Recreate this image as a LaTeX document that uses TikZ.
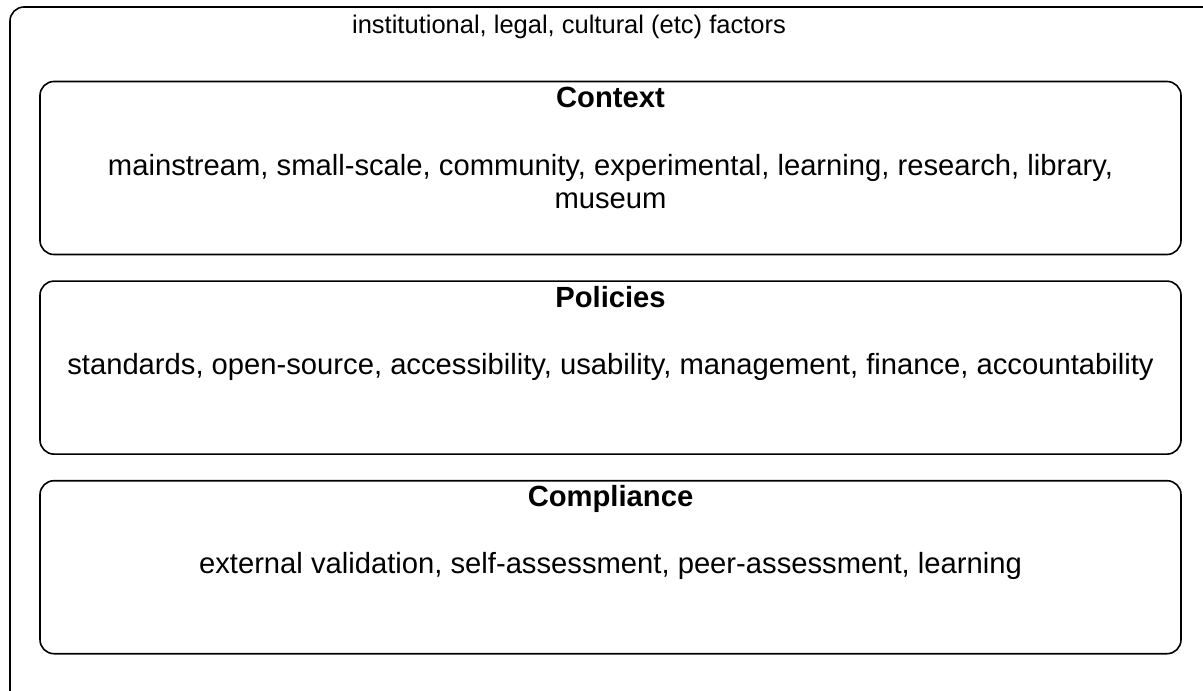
\documentclass[tikz,border=0pt]{standalone}
\usepackage{fontspec}
\setmainfont{Liberation Sans}
\usetikzlibrary{positioning}
\tikzset{
    thick,
    frame/.style={
      rectangle,
      rounded corners=14pt,
      draw=black, line width=1.6pt},
    panel/.style={
      rectangle,
      rounded corners=14pt,
      draw=black, line width=1.6pt,
      minimum width=1141pt,
      minimum height=173pt},
    heading/.style={
      font=\fontsize{29.2}{33}\selectfont\bfseries,
      inner sep=0pt},
    items/.style={
      font=\fontsize{29.2}{33}\selectfont,
      align=center,
      inner sep=0pt},
}
\begin{document}
\begin{tikzpicture}[x=1pt,y=-1pt,node distance=25pt]
    \useasboundingbox (0,0) rectangle (1203,691);
    \begin{scope}
      \clip (0,0) rectangle (1203,691);
      \draw[frame] (10,7) rectangle (1230,720);
    \end{scope}
    \node (factors) [inner sep=0pt, anchor=base, font=\fontsize{25.5}{30}\selectfont]
          at (569,33) {institutional, legal, cultural (etc) factors};
    \node (context) [panel] at (610.5,168) {};
    \node (policies) [panel] [below=of context] {};
    \node (compliance) [panel] [below=of policies] {};
    % titles
    \node (contexthd) [heading, below=27pt of context.north, anchor=base] {Context};
    \node (policieshd) [heading, below=27pt of policies.north, anchor=base] {Policies};
    \node (compliancehd) [heading, below=27pt of compliance.north, anchor=base] {Compliance};
    % contents
    \node (contextit) [items, below=73pt of context.north, anchor=north]
          {mainstream, small-scale, community, experimental, learning, research, library,\\ museum};
    \node (policiesit) [items, below=94pt of policies.north, anchor=base]
          {standards, open-source, accessibility, usability, management, finance, accountability};
    \node (complianceit) [items, below=94pt of compliance.north, anchor=base]
          {external validation, self-assessment, peer-assessment, learning};
\end{tikzpicture}
\end{document}
